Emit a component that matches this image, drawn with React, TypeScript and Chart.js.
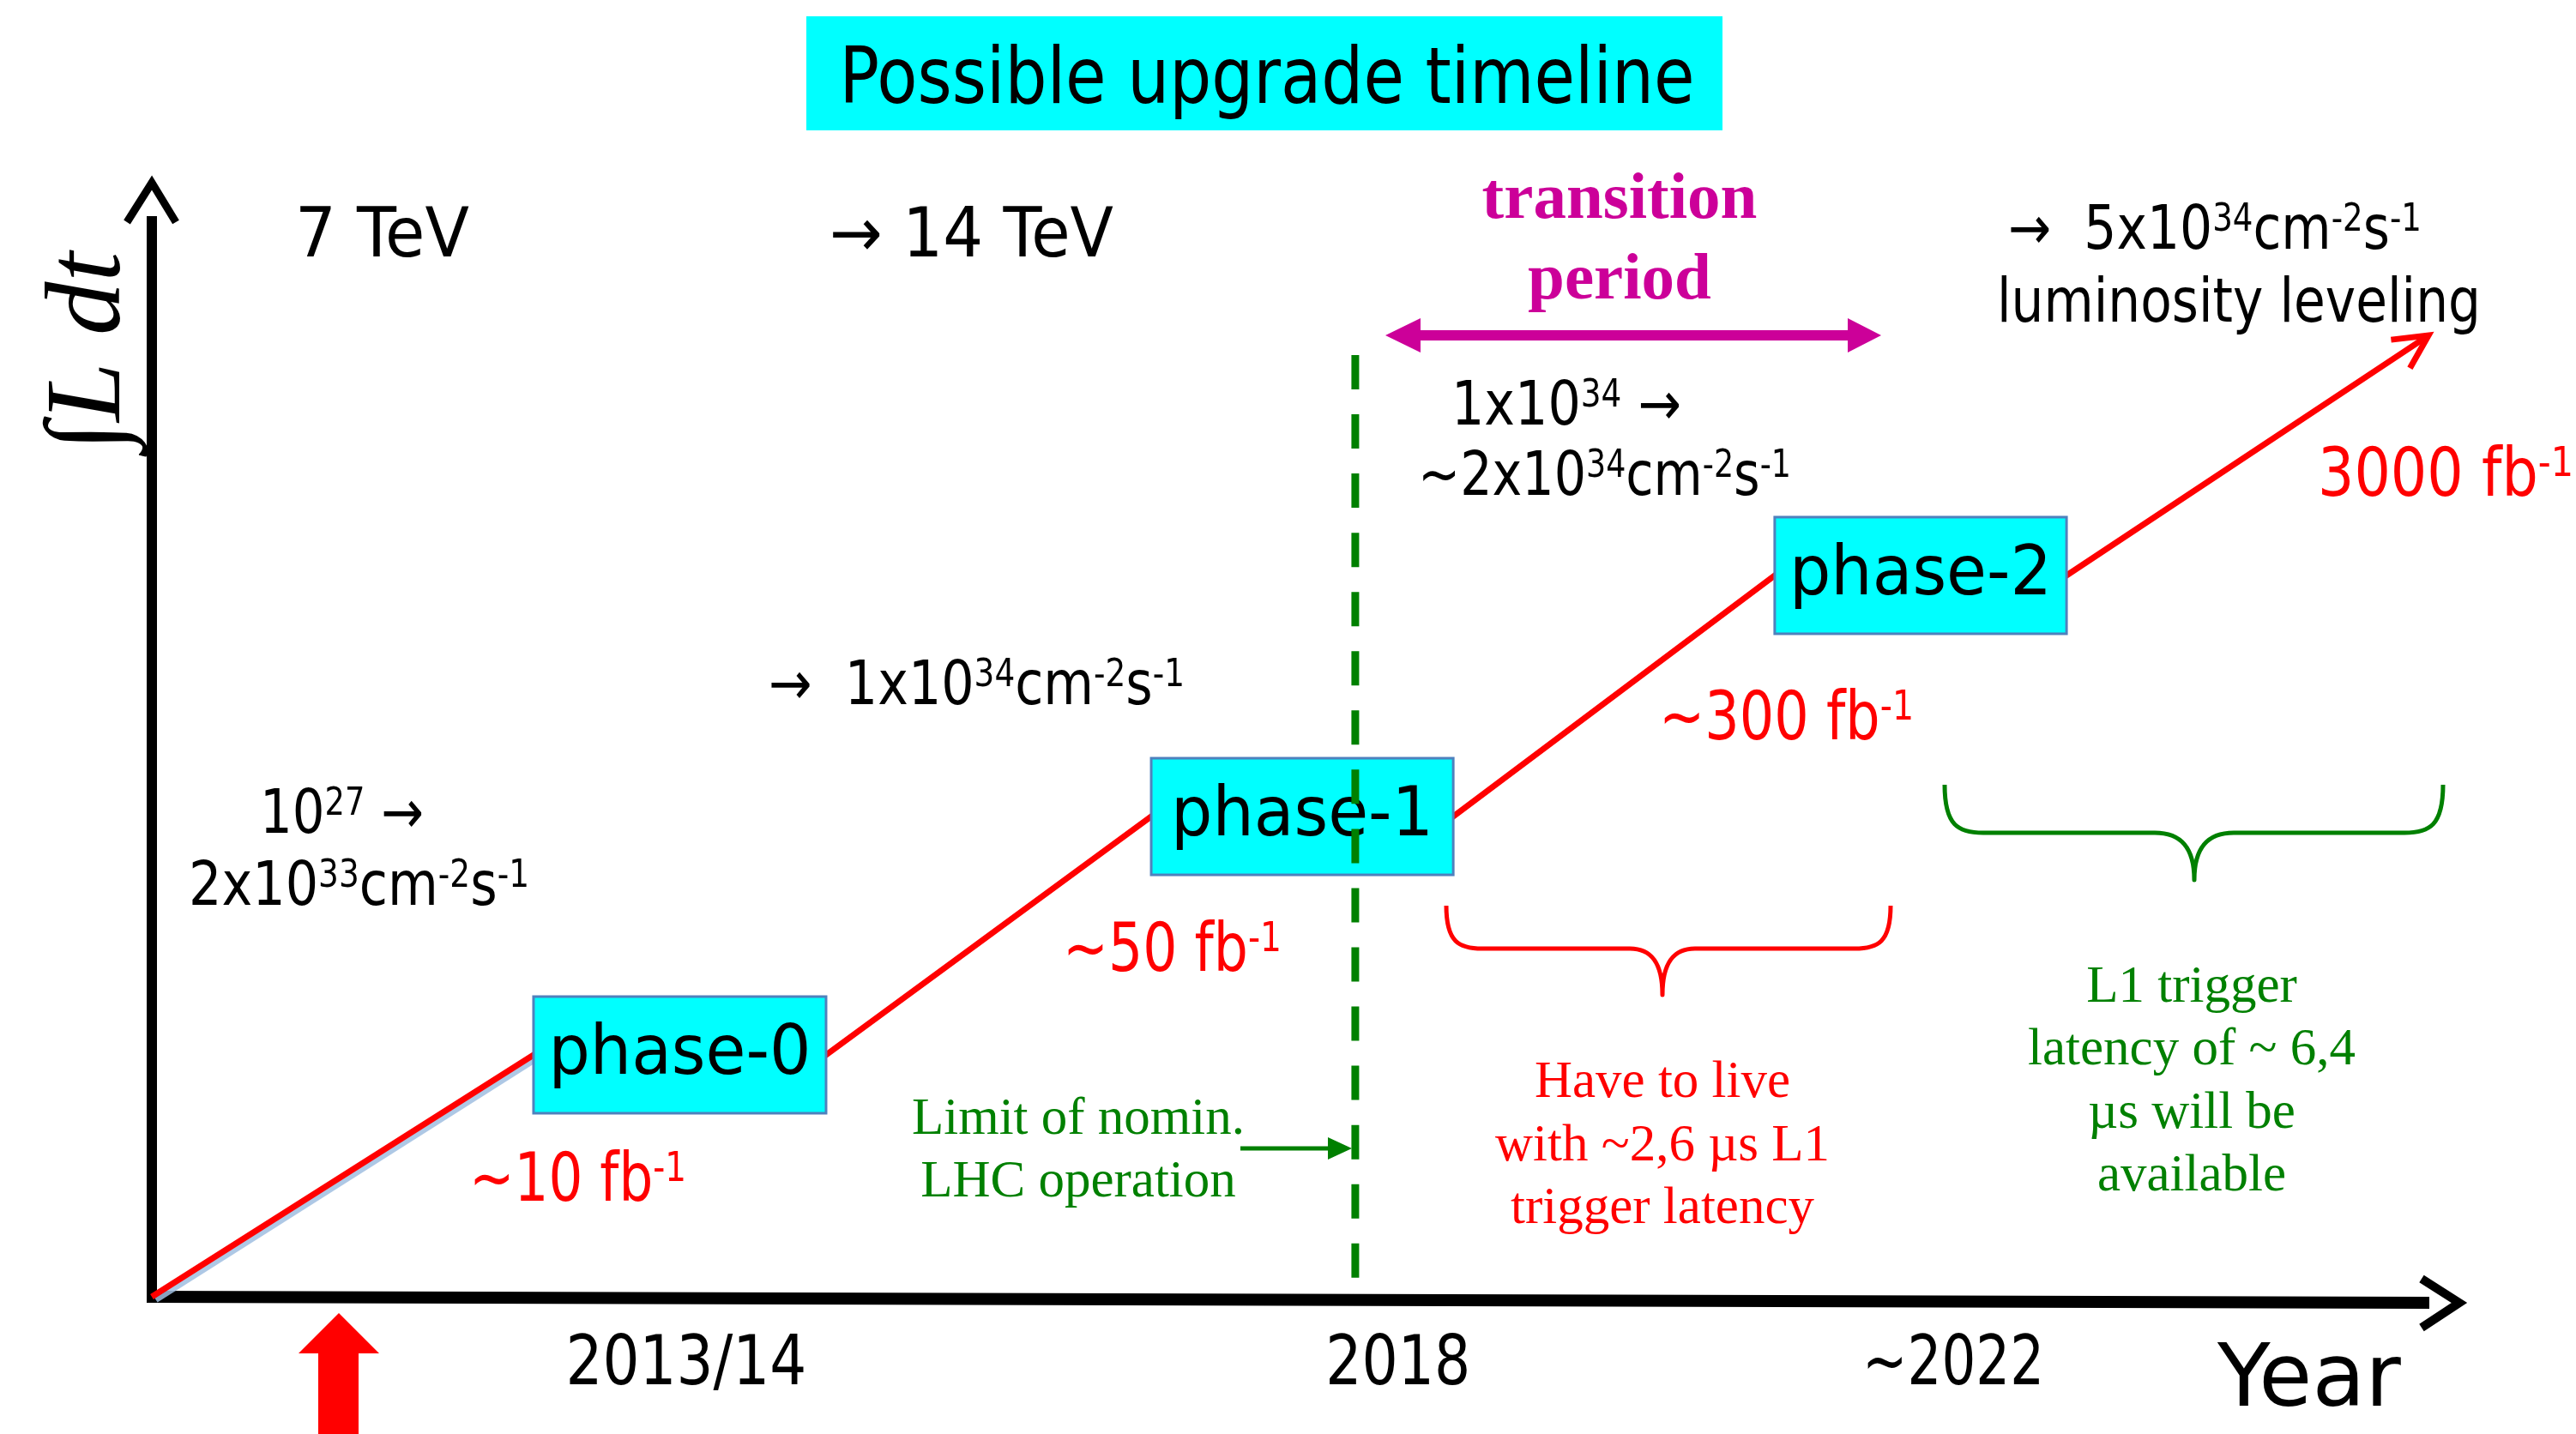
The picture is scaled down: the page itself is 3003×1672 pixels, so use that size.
import React, { useEffect, useRef } from 'react';
import { Chart, registerables } from 'chart.js';

Chart.register(...registerables);

const W = 3003;
const H = 1672;

// ---------------- data ----------------
const milestones = ['LHC start', 'phase-0 start', 'phase-0 end', 'phase-1 start', 'phase-1 end', 'phase-2 start', 'phase-2 end', 'HL-LHC'];
const timeUnits = [0, 16.48, 29.11, 43.15, 56.19, 70.07, 82.67, 98.3];
const lumiUnits = [0, 21.56, 21.56, 42.81, 42.81, 64.3, 64.3, 85.7];
const phaseNames = ['phase-0', 'phase-1', 'phase-2'];
const lumiLabels = ['~10 fb^{-1}', '~50 fb^{-1}', '~300 fb^{-1}', '3000 fb^{-1}'];
const yearTickValues = [23.07, 53.81, 77.78];
const yearTickLabels = ['2013/14', '2018', '~2022'];
const nominalLimitYear = 51.96;

const SANS = '"DejaVu Sans", "Liberation Sans", sans-serif';
const SERIF = '"Liberation Serif", "Times New Roman", serif';
const RED = '#FF0000';
const GREEN = '#008000';
const MAGENTA = '#CC0099';
const CYAN = '#00FFFF';

type Run = [string, boolean];
function parseRuns(s: string): Run[] {
  const runs: Run[] = [];
  const re = /\^\{([^}]*)\}/g;
  let last = 0;
  let m: RegExpExecArray | null;
  while ((m = re.exec(s))) {
    if (m.index > last) runs.push([s.slice(last, m.index), false]);
    runs.push([m[1], true]);
    last = re.lastIndex;
  }
  if (last < s.length) runs.push([s.slice(last), false]);
  return runs;
}

function rich(
  ctx: CanvasRenderingContext2D,
  s: string,
  x: number,
  y: number,
  size: number,
  width: number | null,
  color: string,
  align: 'left' | 'center' = 'left',
  family = SANS,
  style = ''
) {
  const runs = parseRuns(s);
  const supSize = size * 0.62;
  const ws: number[] = [];
  let nat = 0;
  for (const [t, sup] of runs) {
    ctx.font = `${style} ${sup ? supSize : size}px ${family}`;
    const w = ctx.measureText(t).width;
    ws.push(w);
    nat += w;
  }
  const sx = width ? width / nat : 1;
  const total = nat * sx;
  const x0 = align === 'center' ? x - total / 2 : x;
  ctx.save();
  ctx.translate(x0, y);
  ctx.scale(sx, 1);
  ctx.fillStyle = color;
  ctx.textAlign = 'left';
  ctx.textBaseline = 'alphabetic';
  let cx = 0;
  runs.forEach(([t, sup], i) => {
    ctx.font = `${style} ${sup ? supSize : size}px ${family}`;
    ctx.fillText(t, cx, sup ? -size * 0.29 : 0);
    cx += ws[i];
  });
  ctx.restore();
}

function poly(ctx: CanvasRenderingContext2D, pts: number[][], color: string) {
  ctx.beginPath();
  ctx.moveTo(pts[0][0], pts[0][1]);
  for (let i = 1; i < pts.length; i++) ctx.lineTo(pts[i][0], pts[i][1]);
  ctx.closePath();
  ctx.fillStyle = color;
  ctx.fill();
}

function chevron(ctx: CanvasRenderingContext2D, pts: number[][], color: string, w: number) {
  ctx.save();
  ctx.beginPath();
  ctx.moveTo(pts[0][0], pts[0][1]);
  ctx.lineTo(pts[1][0], pts[1][1]);
  ctx.lineTo(pts[2][0], pts[2][1]);
  ctx.strokeStyle = color;
  ctx.lineWidth = w;
  ctx.lineJoin = 'miter';
  ctx.miterLimit = 10;
  ctx.lineCap = 'butt';
  ctx.stroke();
  ctx.restore();
}

function brace(ctx: CanvasRenderingContext2D, xl: number, xr: number, xc: number, yt: number, ym: number, yb: number, r1: number, r2: number, color: string) {
  ctx.save();
  ctx.beginPath();
  ctx.moveTo(xl, yt);
  ctx.bezierCurveTo(xl, yt + (ym - yt) * 0.85, xl + r1 * 0.35, ym, xl + r1, ym);
  ctx.lineTo(xc - r2, ym);
  ctx.bezierCurveTo(xc - r2 * 0.35, ym, xc, ym + (yb - ym) * 0.3, xc, yb);
  ctx.bezierCurveTo(xc, ym + (yb - ym) * 0.3, xc + r2 * 0.35, ym, xc + r2, ym);
  ctx.lineTo(xr - r1, ym);
  ctx.bezierCurveTo(xr - r1 * 0.35, ym, xr, yt + (ym - yt) * 0.85, xr, yt);
  ctx.strokeStyle = color;
  ctx.lineWidth = 5;
  ctx.lineJoin = 'round';
  ctx.stroke();
  ctx.restore();
}

const diagramPlugin = {
  id: 'diagram',
  beforeDraw(chart: any) {
    const ctx: CanvasRenderingContext2D = chart.ctx;
    const { left, bottom } = chart.chartArea;
    ctx.save();
    ctx.fillStyle = '#FFFFFF';
    ctx.fillRect(0, 0, W, H);

    // title
    ctx.fillStyle = CYAN;
    ctx.fillRect(940, 19, 1068, 133);
    rich(ctx, 'Possible upgrade timeline', 1477, 120, 90, 997, '#000', 'center');

    // axes
    ctx.strokeStyle = '#000';
    ctx.lineCap = 'butt';
    ctx.lineWidth = 12;
    ctx.beginPath();
    ctx.moveTo(left, bottom + 5);
    ctx.lineTo(left, 252);
    ctx.stroke();
    chevron(ctx, [[148, 259], [left, 213], [205, 259]], '#000', 9);

    ctx.lineWidth = 14;
    ctx.beginPath();
    ctx.moveTo(left - 6, bottom);
    ctx.lineTo(2832, bottom + 7);
    ctx.stroke();
    chevron(ctx, [[2823, 1491], [2867, 1519], [2823, 1548]], '#000', 10);

    // y axis title
    ctx.save();
    ctx.translate(139, 410);
    ctx.rotate(-Math.PI / 2);
    ctx.font = `italic 125px ${SERIF}`;
    ctx.fillStyle = '#000';
    ctx.textAlign = 'center';
    ctx.textBaseline = 'alphabetic';
    ctx.fillText('∫L dt', 0, 0);
    ctx.restore();
    ctx.restore();
  },
  beforeDatasetsDraw(chart: any) {
    const ctx: CanvasRenderingContext2D = chart.ctx;
    const pts = chart.getDatasetMeta(0).data;
    ctx.save();
    ctx.strokeStyle = 'rgba(160,190,225,0.85)';
    ctx.lineWidth = 6;
    ctx.beginPath();
    ctx.moveTo(pts[0].x + 5, pts[0].y + 4);
    ctx.lineTo(pts[1].x + 5, pts[1].y + 4);
    ctx.stroke();
    ctx.restore();
  },
  afterDatasetsDraw(chart: any) {
    const ctx: CanvasRenderingContext2D = chart.ctx;
    const pts = chart.getDatasetMeta(0).data;
    const xs = chart.scales.x;
    ctx.save();

    // red arrow head at end of the line
    const n = pts.length;
    const a = Math.atan2(pts[n - 1].y - pts[n - 2].y, pts[n - 1].x - pts[n - 2].x);
    const tip = [pts[n - 1].x, pts[n - 1].y];
    const L = 44;
    chevron(
      ctx,
      [
        [tip[0] - L * Math.cos(a - 0.47), tip[1] - L * Math.sin(a - 0.47)],
        tip,
        [tip[0] - L * Math.cos(a + 0.47), tip[1] - L * Math.sin(a + 0.47)],
      ],
      RED,
      7
    );

    // phase boxes
    phaseNames.forEach((name, i) => {
      const p1 = pts[1 + i * 2];
      const p2 = pts[2 + i * 2];
      const cy = (p1.y + p2.y) / 2;
      ctx.fillStyle = CYAN;
      ctx.fillRect(p1.x, cy - 68, p2.x - p1.x, 136);
      ctx.strokeStyle = '#4F81BD';
      ctx.lineWidth = 3;
      ctx.strokeRect(p1.x, cy - 68, p2.x - p1.x, 136);
      rich(ctx, name, (p1.x + p2.x) / 2, cy + 22, 80, 306, '#000', 'center');
    });

    // nominal LHC limit (dashed)
    const lx = xs.getPixelForValue(nominalLimitYear);
    ctx.save();
    ctx.strokeStyle = GREEN;
    ctx.lineWidth = 9;
    ctx.setLineDash([40, 29.05]);
    ctx.beginPath();
    ctx.moveTo(lx, 414);
    ctx.lineTo(lx, 1490);
    ctx.stroke();
    ctx.restore();

    // year tick labels
    const tickW = [281, 169, 212];
    yearTickLabels.forEach((t, i) => {
      rich(ctx, t, xs.getPixelForValue(yearTickValues[i]), 1614, 80, tickW[i], '#000', 'center');
    });
    rich(ctx, 'Year', 2585, 1639, 101, null, '#000');

    // integrated luminosity labels
    const fbPos = [[547, 1400, 253], [1239, 1132, 255], [1934, 862, 297], [2702, 578, 298]];
    lumiLabels.forEach((t, i) => rich(ctx, t, fbPos[i][0], fbPos[i][1], 78, fbPos[i][2], RED));

    // energy / luminosity notes
    rich(ctx, '7 TeV', 344, 299, 80, 203, '#000');
    rich(ctx, '→ 14 TeV', 967, 299, 80, 331, '#000');
    rich(ctx, '10^{27} →', 303, 971, 71, 191, '#000');
    rich(ctx, '2x10^{33}cm^{-2}s^{-1}', 220, 1055, 71, 397, '#000');
    rich(ctx, '→  1x10^{34}cm^{-2}s^{-1}', 896, 821, 71, 485, '#000');
    rich(ctx, '1x10^{34} →', 1692, 495, 71, 268, '#000');
    rich(ctx, '~2x10^{34}cm^{-2}s^{-1}', 1653, 577, 71, 435, '#000');
    rich(ctx, '→  5x10^{34}cm^{-2}s^{-1}', 2341, 290, 71, 482, '#000');
    rich(ctx, 'luminosity leveling', 2328, 375, 71, 564, '#000');

    // transition period
    rich(ctx, 'transition', 1888, 254, 77, null, MAGENTA, 'center', SERIF, 'bold');
    rich(ctx, 'period', 1888, 348, 77, null, MAGENTA, 'center', SERIF, 'bold');
    poly(ctx, [[1615, 391], [1656, 371], [1656, 385], [2154, 385], [2154, 371], [2193, 391], [2154, 411], [2154, 397], [1656, 397], [1656, 411]], MAGENTA);

    // limit note
    rich(ctx, 'Limit of nomin.', 1257, 1322, 61, null, GREEN, 'center', SERIF);
    rich(ctx, 'LHC operation', 1257, 1395, 61, null, GREEN, 'center', SERIF);
    ctx.strokeStyle = GREEN;
    ctx.lineWidth = 5;
    ctx.beginPath();
    ctx.moveTo(1446, 1339);
    ctx.lineTo(1552, 1339);
    ctx.stroke();
    poly(ctx, [[1576, 1339], [1548, 1326], [1548, 1352]], GREEN);

    // braces and notes
    brace(ctx, 1686, 2204, 1938, 1056, 1106, 1160, 42, 38, RED);
    ['Have to live', 'with ~2,6 µs L1', 'trigger latency'].forEach((t, i) =>
      rich(ctx, t, 1938, 1279 + i * 73.5, 61, null, RED, 'center', SERIF)
    );
    brace(ctx, 2267, 2848, 2558, 915, 971, 1026, 45, 46, GREEN);
    ['L1 trigger', 'latency of ~ 6,4', 'µs will be', 'available'].forEach((t, i) =>
      rich(ctx, t, 2555, 1168 + i * 73.3, 61, null, GREEN, 'center', SERIF)
    );

    // red start arrow
    poly(ctx, [[395, 1531], [442, 1578], [418, 1578], [418, 1672], [371, 1672], [371, 1578], [348, 1578]], RED);

    ctx.restore();
  },
};

export default function App() {
  const ref = useRef<HTMLCanvasElement>(null);
  useEffect(() => {
    const chart = new Chart(ref.current as HTMLCanvasElement, {
      type: 'line',
      data: {
        labels: milestones,
        datasets: [
          {
            label: 'Integrated luminosity',
            data: timeUnits.map((x, i) => ({ x, y: lumiUnits[i] })),
            borderColor: RED,
            borderWidth: 7,
            pointRadius: 0,
            tension: 0,
            fill: false,
            clip: false,
            borderJoinStyle: 'miter',
          } as any,
        ],
      },
      options: {
        responsive: false,
        animation: false,
        devicePixelRatio: 1,
        events: [],
        layout: { padding: { left: 177, right: 126, top: 204, bottom: 160 } },
        scales: {
          x: { type: 'linear', min: 0, max: 100, display: false },
          y: { type: 'linear', min: 0, max: 100, display: false },
        },
        plugins: { legend: { display: false }, tooltip: { enabled: false }, title: { display: false } },
      } as any,
      plugins: [diagramPlugin],
    });
    return () => chart.destroy();
  }, []);
  return (
    <div style={{ position: 'fixed', left: 0, top: 0, width: W, height: H, background: '#fff' }}>
      <canvas ref={ref} width={W} height={H} style={{ display: 'block' }} />
    </div>
  );
}
